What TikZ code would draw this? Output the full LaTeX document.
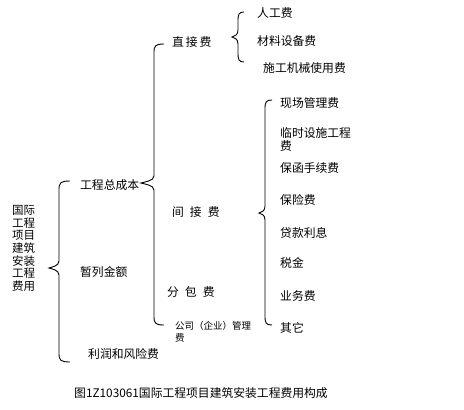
\documentclass[tikz,border=0pt]{standalone}
\usepackage{fontspec}
\setmainfont{Noto Sans CJK SC}
\newcommand\cbrace[6]{%
  \draw[bracel] ({#2},{#3}) .. controls ({#1+1},{#3}) and ({#1},{#3+2}) .. ({#1},{#3+9})
    -- ({#1},{#5-7}) .. controls ({#1},{#5-2}) and ({#4+3},{#5-1}) .. ({#4},{#5})
    .. controls ({#4+3},{#5+1}) and ({#1},{#5+2}) .. ({#1},{#5+7})
    -- ({#1},{#6-9}) .. controls ({#1},{#6-2}) and ({#1+1},{#6}) .. ({#2},{#6});}
\begin{document}
\begin{tikzpicture}[x=1pt,y=-1pt,
  lbl/.style={anchor=west,inner sep=0pt,font=\fontsize{11.8}{12}\selectfont},
  small/.style={anchor=north west,inner sep=0pt,align=left,font=\fontsize{9.5}{12}\selectfont},
  bracel/.style={line width=0.9pt,black}]
\useasboundingbox[fill=white] (0,0) rectangle (464,410);
% left vertical title
\node[anchor=north west,inner sep=0pt,align=left,font=\fontsize{11.5}{12.7}\selectfont] (title) at (12,205) {国际\\工程\\项目\\建筑\\安装\\工程\\费用};
% level 1
\node[lbl] (zcb) at (80,185) {工程总成本};
\node[lbl] (zljr) at (80,272) {暂列金额};
\node[lbl] (lr) at (88,354) {利润和风险费};
\cbrace{59}{70}{181}{49}{268}{362}
% level 2
\node[lbl] (zjf) at (172,42) {直\,接\,费};
\node[lbl] (jjf) at (172,212) {间\hspace{6pt}接\hspace{6pt}费};
\node[lbl] (fbf) at (167,292) {分\hspace{6pt}包\hspace{6pt}费};
\node[small] (gsgl) at (175,321) {公司（企业）管理\\费};
\cbrace{154}{164}{44}{141}{183}{325}
% direct cost items
\node[lbl] (rgf) at (257,13) {人工费};
\node[lbl] (clsb) at (257,41) {材料设备费};
\node[lbl] (sgjx) at (263,68) {施工机械使用费};
\cbrace{238}{244}{12}{232}{37}{62}
% indirect cost items
\node[lbl] (xcgl) at (280,103) {现场管理费};
\node[anchor=north west,inner sep=0pt,align=left,font=\fontsize{11.8}{13}\selectfont] (lsss) at (280,127) {临时设施工程\\费};
\node[lbl] (bhsx) at (280,168) {保函手续费};
\node[lbl] (bxf) at (280,200) {保险费};
\node[lbl] (dklx) at (280,233) {贷款利息};
\node[lbl] (sj) at (280,263) {税金};
\node[lbl] (ywf) at (280,296) {业务费};
\node[lbl] (qt) at (280,328) {其它};
\cbrace{265}{272}{100}{259}{213}{325}
% caption
\node[lbl,anchor=center] (cap) at (201,393) {图1Z103061国际工程项目建筑安装工程费用构成};
\end{tikzpicture}
\end{document}
